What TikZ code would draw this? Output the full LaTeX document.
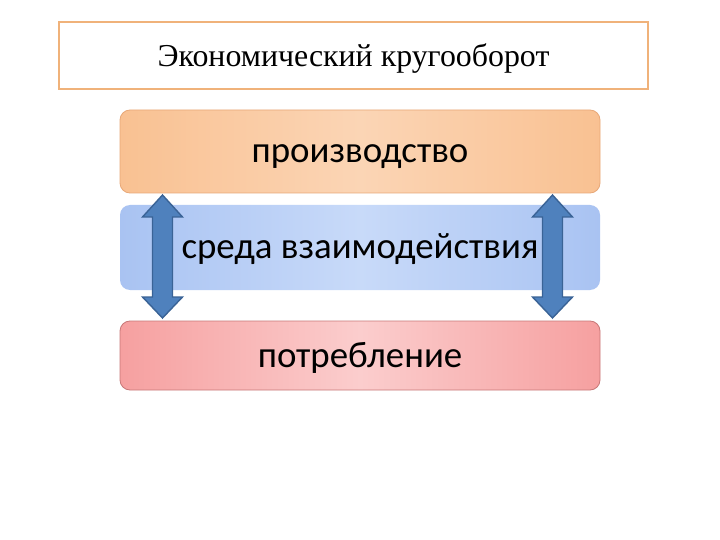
\documentclass[tikz,border=0pt]{standalone}
\usepackage{fontspec}
\setmainfont{Liberation Serif}
\newfontfamily\bodyfont{Carlito}
\begin{document}
\begin{tikzpicture}[x=1bp,y=-1bp,
  band/.style={rounded corners=10bp,line width=0.8bp},
  bandtext/.style={font=\bodyfont\fontsize{37}{42}\selectfont,text=black},
  dblarrow/.style={fill=arrowfill,draw=arrowedge,line width=1.4bp,line join=miter}]
\definecolor{arrowfill}{HTML}{4F81BD}
\definecolor{arrowedge}{HTML}{3A6396}
\definecolor{titleedge}{HTML}{F0B27A}
\definecolor{orA}{HTML}{F9C192}
\definecolor{orB}{HTML}{FBD5B5}
\definecolor{orE}{HTML}{E8A878}
\definecolor{blA}{HTML}{A9C3F2}
\definecolor{blB}{HTML}{C8DAF9}
\definecolor{rdA}{HTML}{F6A0A0}
\definecolor{rdB}{HTML}{FBCDCD}
\definecolor{rdE}{HTML}{C87878}
\useasboundingbox[fill=white] (0,0) rectangle (720,540);
% title
\draw[titleedge,line width=1.6bp,fill=white] (59,22) rectangle (648,89);
\node[font=\fontsize{32}{36}\selectfont] (title) at (353.5,59) {Экономический кругооборот};
% bands
\shade[band,left color=blA,right color=blA,middle color=blB] (120,205) rectangle (600,290);
\node[bandtext] (env) at (360,249) {среда взаимодействия};
\shade[band,left color=orA,right color=orA,middle color=orB,draw=orE] (120,110) rectangle (600,193);
\node[bandtext] (prod) at (360,157) {производство};
\shade[band,left color=rdA,right color=rdA,middle color=rdB,draw=rdE] (120,321) rectangle (600,390);
\node[bandtext] (cons) at (360,358) {потребление};
% double arrows
\foreach \cx/\nm in {162.5/L,552.5/R}{
  \coordinate (top\nm) at (\cx,195);
  \coordinate (bot\nm) at (\cx,318);
  \draw[dblarrow] (top\nm) -- ++(20,22) -- ++(-10,0) -- ++(0,80) -- ++(10,0)
    -- (bot\nm) -- ++(-20,-21) -- ++(10,0) -- ++(0,-80) -- ++(-10,0) -- cycle;
}
\end{tikzpicture}
\end{document}
